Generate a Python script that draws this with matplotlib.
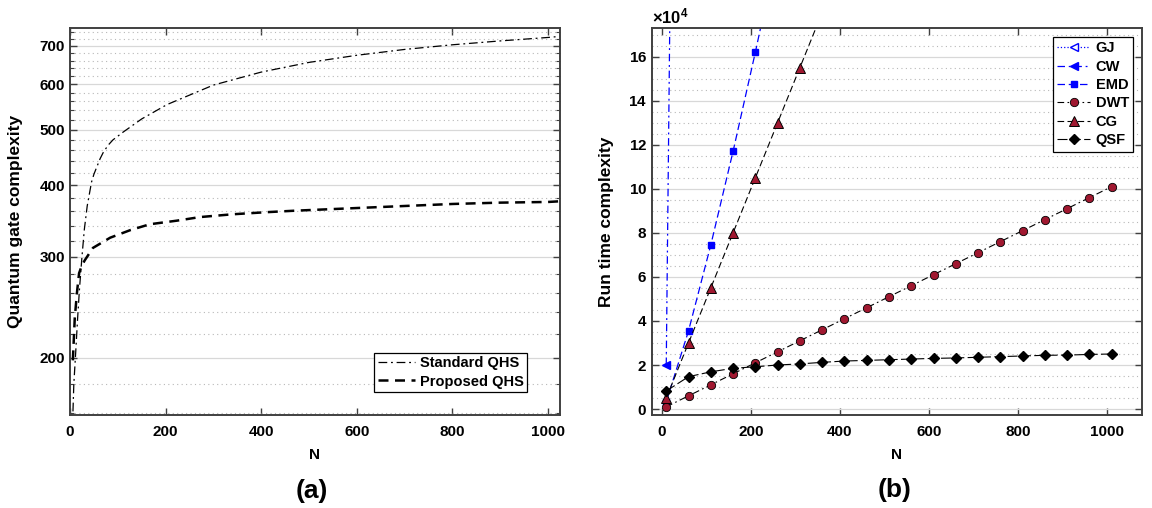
import matplotlib
matplotlib.use('Agg')
import matplotlib.pyplot as plt
from matplotlib.ticker import FixedLocator, FormatStrFormatter, NullFormatter, MultipleLocator

plt.rcParams['font.family'] = ['Liberation Sans', 'DejaVu Sans']
plt.rcParams['font.weight'] = 'bold'
plt.rcParams['axes.labelweight'] = 'bold'
plt.rcParams['mathtext.fontset'] = 'custom'
plt.rcParams['mathtext.rm'] = 'Liberation Sans:bold'
plt.rcParams['mathtext.bf'] = 'Liberation Sans:bold'

# (a) quantum gate complexity
n_std = [5, 8, 12, 16, 20, 25, 30, 36, 45, 50, 63, 70, 80, 90, 111, 150, 203, 300, 400, 500, 600, 700, 800, 900, 1000, 1024]
standard_qhs = [150, 180, 205, 235, 265, 300, 335, 368, 405, 418, 445, 457, 470, 480, 495, 522, 553, 598, 630, 655, 674, 690, 703, 714, 724, 727]
n_prop = [6, 10, 15, 19, 25, 31, 48, 84, 126, 167, 224, 272, 341, 412, 467, 600, 700, 800, 900, 1000, 1024]
proposed_qhs = [198, 235, 262, 281, 290, 296, 311, 324, 334, 342, 347, 352, 356, 359, 361, 365, 368, 371, 373, 374, 375]

# (b) run time complexity
n_b = [10, 60, 110, 160, 210, 260, 310, 360, 410, 460, 510, 560, 610, 660, 710, 760, 810, 860, 910, 960, 1010]
gj = [400000, 8000000]
cw = [20000, 1000000]
emd = [3300, 35500, 74500, 117000, 162000, 209000]
dwt = [1000, 6000, 11000, 16000, 21000, 26000, 31000, 36000, 41000, 46000, 51000,
       56000, 61000, 66000, 71000, 76000, 81000, 86000, 91000, 96000, 101000]
cg = [5000, 30000, 55000, 80000, 105000, 130000, 155000, 180000]
qsf = [8200, 14700, 16900, 18500, 19200, 20000, 20500, 21200, 21800, 22100, 22400,
       22700, 23000, 23200, 23500, 23800, 24100, 24400, 24500, 24800, 25000]

red = '#A01830'
spine_col = '#404040'


def style_axes(ax):
    for s in ax.spines.values():
        s.set_color(spine_col)
        s.set_linewidth(1.4)
    ax.tick_params(which='both', direction='in', top=True, right=True,
                   colors=spine_col, labelcolor='black', labelsize=11)
    ax.tick_params(which='major', length=5, width=1.0)
    ax.tick_params(which='minor', length=3, width=0.8)
    ax.tick_params(axis='x', pad=7)
    ax.grid(which='major', axis='y', color='#d8d8d8', linestyle='-', linewidth=0.9)
    ax.grid(which='minor', axis='y', color='#b8b8b8', linestyle=(0, (1, 3)), linewidth=0.8)
    ax.set_axisbelow(True)


fig = plt.figure(figsize=(11.52, 5.08), dpi=100)
ax1 = fig.add_axes([70 / 1152, 1 - 415 / 508, 490 / 1152, 387 / 508])
ax2 = fig.add_axes([652 / 1152, 1 - 415 / 508, 490 / 1152, 387 / 508])

# ---- (a)
ax1.plot(n_std, standard_qhs, color='black', lw=0.9, linestyle=(0, (7, 3, 1.5, 3)), label='Standard QHS')
ax1.plot(n_prop, proposed_qhs, color='black', lw=1.8, linestyle=(0, (4, 2.6)), label='Proposed QHS')
ax1.set_yscale('log')
ax1.set_xlim(0, 1025)
ax1.set_ylim(159, 752)
ax1.yaxis.set_major_locator(FixedLocator([200, 300, 400, 500, 600, 700]))
ax1.yaxis.set_major_formatter(FormatStrFormatter('%d'))
ax1.yaxis.set_minor_locator(FixedLocator(list(range(160, 760, 20))))
ax1.yaxis.set_minor_formatter(NullFormatter())
ax1.xaxis.set_major_locator(MultipleLocator(200))
style_axes(ax1)
ax1.set_xlabel('N', fontsize=11)
ax1.set_ylabel('Quantum gate complexity', fontsize=12.5)
ax1.xaxis.set_label_coords(0.5, -0.085)
ax1.yaxis.set_label_coords(-0.095, 0.5)
leg1 = ax1.legend(loc='lower right', bbox_to_anchor=(0.933, 0.059), borderaxespad=0,
                  fancybox=False, framealpha=1, edgecolor='black', fontsize=10.5,
                  handlelength=2.5, borderpad=0.25, labelspacing=0.3, handletextpad=0.35)
leg1.get_frame().set_linewidth(0.9)

# ---- (b)
ax2.plot(n_b[:len(gj)], gj, color='blue', lw=0.9, linestyle=':', marker='<', ms=6,
         mfc='white', mec='blue', label='GJ')
ax2.plot(n_b[:len(cw)], cw, color='blue', lw=0.9, linestyle=(0, (6, 3, 1.5, 3)), marker='<', ms=6,
         mfc='blue', mec='blue', label='CW')
ax2.plot(n_b[:len(emd)], emd, color='blue', lw=0.9, linestyle=(0, (6, 3)), marker='s', ms=4,
         mfc='blue', mec='blue', label='EMD')
ax2.plot(n_b, dwt, color='black', lw=0.8, linestyle=(0, (6, 3, 1.5, 3)), marker='o', ms=6,
         mfc=red, mec='black', mew=0.6, label='DWT')
ax2.plot(n_b[:len(cg)], cg, color='black', lw=0.8, linestyle=(0, (6, 3)), marker='^', ms=6.5,
         mfc=red, mec='black', mew=0.7, label='CG')
ax2.plot(n_b, qsf, color='black', lw=0.8, linestyle=(0, (9, 3)), marker='D', ms=5,
         mfc='black', mec='black', label='QSF')
ax2.set_xlim(-22, 1078)
ax2.set_ylim(-2700, 173000)
ax2.yaxis.set_major_locator(MultipleLocator(20000))
ax2.yaxis.set_minor_locator(MultipleLocator(5000))
ax2.xaxis.set_major_locator(MultipleLocator(200))
ax2.ticklabel_format(axis='y', style='sci', scilimits=(4, 4), useMathText=True)
style_axes(ax2)
ax2.tick_params(which='minor', length=0)
ax2.yaxis.get_offset_text().set_fontsize(12)
ax2.yaxis.get_offset_text().set_fontweight('bold')
ax2.set_xlabel('N', fontsize=11)
ax2.set_ylabel('Run time complexity', fontsize=12.5)
ax2.xaxis.set_label_coords(0.5, -0.085)
ax2.yaxis.set_label_coords(-0.078, 0.5)
leg2 = ax2.legend(loc='upper right', bbox_to_anchor=(0.982, 0.977), borderaxespad=0,
                  fancybox=False, framealpha=1, edgecolor='black', fontsize=10.5,
                  handlelength=2.3, borderpad=0.3, labelspacing=0.3, handletextpad=0.35)
leg2.get_frame().set_linewidth(0.9)

fig.text(312 / 1152, 1 - 491 / 508, '(a)', ha='center', va='center', fontsize=19, fontweight='bold')
fig.text(895 / 1152, 1 - 490 / 508, '(b)', ha='center', va='center', fontsize=19, fontweight='bold')

fig.savefig('out.png', dpi=100)
